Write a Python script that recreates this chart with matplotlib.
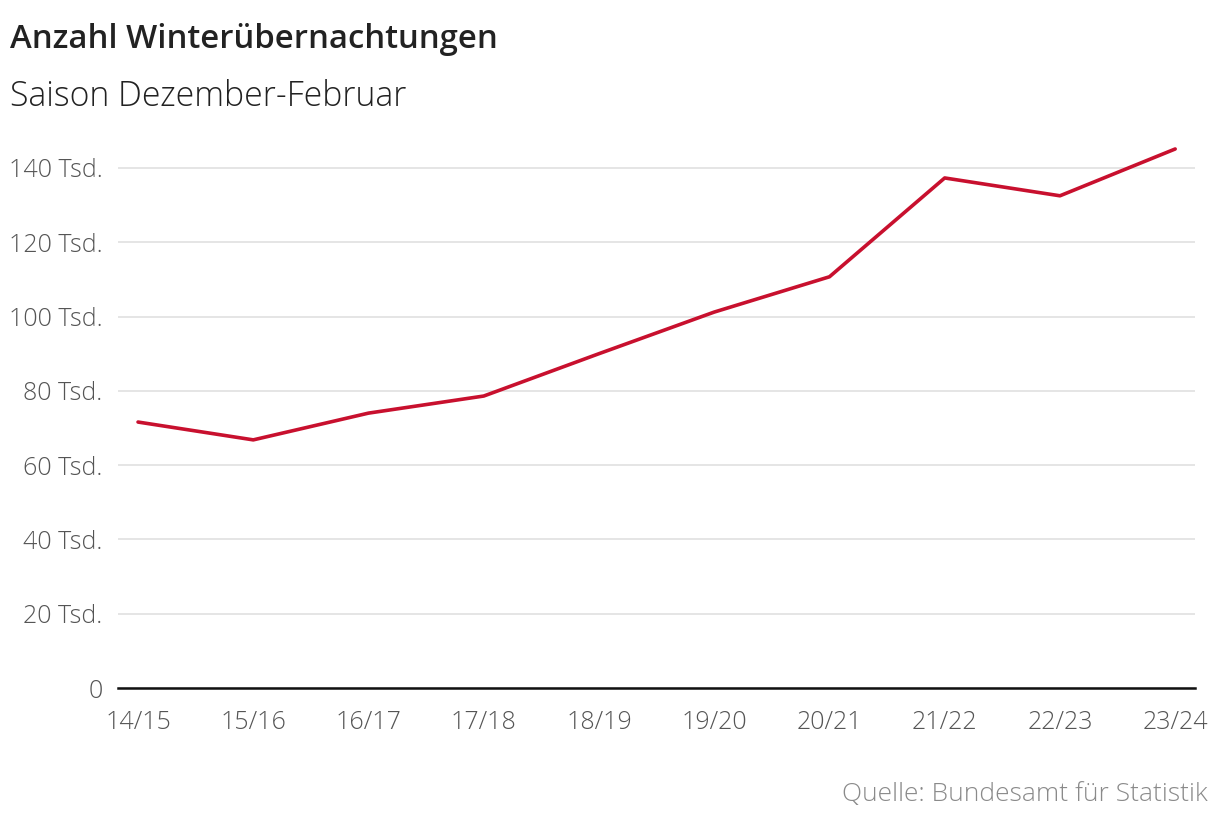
import numpy as np
import matplotlib
matplotlib.use("Agg")
import matplotlib.pyplot as plt

seasons = ["14/15", "15/16", "16/17", "17/18", "18/19",
           "19/20", "20/21", "21/22", "22/23", "23/24"]
nights = [71.6, 66.8, 74.0, 78.6, 90.0, 101.2, 110.7, 137.3, 132.5, 145.1]
yticks = [0, 20, 40, 60, 80, 100, 120, 140]
ylabels = ["0"] + [f"{v} Tsd." for v in yticks[1:]]

plt.rcParams["font.family"] = ["Open Sans", "DejaVu Sans"]

fig = plt.figure(figsize=(12.2, 8.24), dpi=100)
ax = fig.add_axes([0.0967, 0.165, 0.883, 0.656])

x = np.arange(len(seasons))
ax.plot(x, nights, color="#c8102e", lw=2.6, solid_capstyle="round", zorder=3)

ax.set_xlim(-0.174, 9.174)
ax.set_ylim(0, 145.5)
ax.set_yticks(yticks)
ax.set_yticklabels(ylabels)
ax.set_xticks(x)
ax.set_xticklabels(seasons)
ax.grid(axis="y", color="#e0e0e0", lw=1.2)
ax.set_axisbelow(True)
for s in ["top", "right", "left"]:
    ax.spines[s].set_visible(False)
ax.spines["bottom"].set_color("#111111")
ax.spines["bottom"].set_linewidth(1.8)
ax.tick_params(axis="both", length=0, labelsize=18, labelcolor="#555555")
ax.tick_params(axis="y", pad=11)
ax.tick_params(axis="x", pad=16)
for t in ax.get_xticklabels() + ax.get_yticklabels():
    t.set_fontweight("light")

fig.text(0.008, 0.942, "Anzahl Winterübernachtungen", fontsize=23.7,
         fontweight="semibold", color="#222222", va="baseline")
fig.text(0.008, 0.871, "Saison Dezember-Februar", fontsize=24.3,
         fontweight="light", color="#222222", va="baseline")
fig.text(0.99, 0.028, "Quelle: Bundesamt für Statistik", fontsize=19,
         fontweight="light", color="#8a8a8a", ha="right", va="baseline")

fig.savefig("out.png", dpi=100)
